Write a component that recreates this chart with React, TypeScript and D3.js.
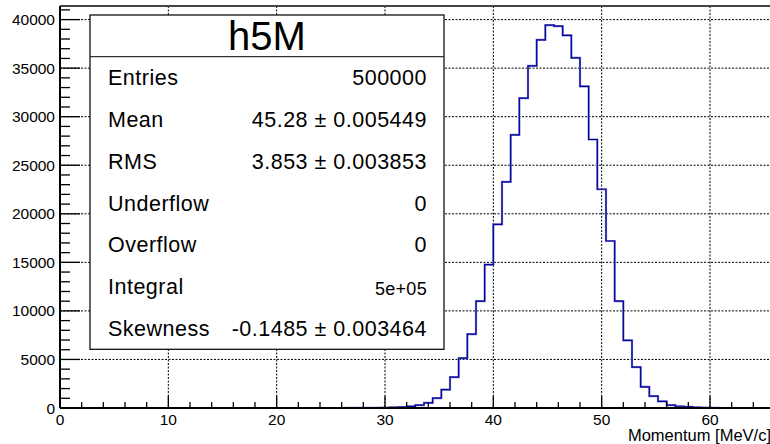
import React from "react";
import * as d3 from "d3";

// Histogram h5M: momentum spectrum, fixed-width bins
const binLow = 26.4;
const binWidth = 0.8;
const binCounts = [
  5, 8, 12, 20, 35, 60, 100, 170, 290, 520, 1010, 1900, 3175, 5134, 7600,
  11010, 14763, 18918, 23278, 28124, 31907, 35237, 37918, 39433, 39330, 38371,
  36062, 33113, 27649, 22526, 17200, 11000, 6959, 4206, 2180, 1230, 685, 300,
  180, 110, 60, 30, 12,
];

const xMajorTicks = [0, 10, 20, 30, 40, 50, 60];
const yMajorTicks = [0, 5000, 10000, 15000, 20000, 25000, 30000, 35000, 40000];

const statsTitle = "h5M";
const statLabels = ["Entries", "Mean", "RMS", "Underflow", "Overflow", "Integral", "Skewness"];
const statValues = [
  "500000",
  "45.28 ± 0.005449",
  "3.853 ± 0.003853",
  "0",
  "0",
  "5e+05",
  "-0.1485 ± 0.003464",
];

const xTitle = "Momentum [MeV/c]";

const W = 770;
const H = 444;
const FONT = "'Liberation Sans', Arial, Helvetica, sans-serif";

export default function App() {
  const left = 60;
  const top = 6;
  const bottom = 408;
  const pxPerUnit = 650 / 60;
  const xMax = 72;
  const x = d3.scaleLinear().domain([0, xMax]).range([left, left + xMax * pxPerUnit]);
  const y = d3.scaleLinear().domain([0, 41400]).range([bottom, top]);

  const n = binCounts.length;
  const pts: [number, number][] = [
    [binLow, 0],
    ...binCounts.map((c, i) => [binLow + i * binWidth, c] as [number, number]),
    [binLow + n * binWidth, 0],
  ];
  const histPath = d3
    .line<[number, number]>()
    .x((d) => x(d[0]))
    .y((d) => y(d[1]))
    .curve(d3.curveStepAfter)(pts) as string;

  const xMinor = d3.range(0, xMax + 0.001, 2).filter((v) => v % 10 !== 0);
  const yMinor = d3.range(0, 41001, 1000).filter((v) => v % 5000 !== 0);

  // stats box geometry
  const bx0 = 90;
  const bx1 = 444;
  const by0 = 15;
  const bySep = 56.7;
  const by1 = 349.3;
  const rowH = (by1 - bySep) / statLabels.length;

  return (
    <svg
      width={W}
      height={H}
      style={{ position: "absolute", left: 0, top: 0, background: "#fff" }}
      fontFamily={FONT}
    >
      <rect x={0} y={0} width={W} height={H} fill="#fff" />

      {/* dotted grid */}
      <g stroke="#000" strokeWidth={1} strokeDasharray="2,1.5">
        {yMajorTicks
          .filter((v) => v > 0)
          .map((v) => (
            <line key={"gy" + v} x1={left} x2={W} y1={y(v)} y2={y(v)} />
          ))}
        {xMajorTicks
          .filter((v) => v > 0)
          .map((v) => (
            <line key={"gx" + v} x1={x(v)} x2={x(v)} y1={top} y2={bottom} />
          ))}
      </g>

      {/* histogram outline */}
      <path d={histPath} fill="none" stroke="#8080d0" strokeWidth={2.2} />
      <path d={histPath} fill="none" stroke="#000099" strokeWidth={1.2} />

      {/* stats box */}
      <rect x={bx0} y={by0} width={bx1 - bx0} height={by1 - by0} fill="#fff" stroke="#111" strokeWidth={1.3} />
      <line x1={bx0} x2={bx1} y1={bySep} y2={bySep} stroke="#333" strokeWidth={1.3} />
      <text x={(bx0 + bx1) / 2} y={50} textAnchor="middle" fontSize={40} fill="#000">
        {statsTitle}
      </text>
      {statLabels.map((lab, i) => {
        const cy = bySep + rowH * (i + 0.5);
        const small = statValues[i] === "5e+05";
        return (
          <g key={lab}>
            <text x={108} y={cy + 7.5} fontSize={21.5} letterSpacing={0.5} fill="#000">
              {lab}
            </text>
            <text
              x={427}
              y={cy + (small ? 8.5 : 7.5)}
              fontSize={small ? 18 : 21.5}
              letterSpacing={small ? 0.3 : 0.5}
              textAnchor="end"
              fill="#000"
            >
              {statValues[i]}
            </text>
          </g>
        );
      })}

      {/* frame */}
      <line x1={left} x2={W} y1={top} y2={top} stroke="#444" strokeWidth={2} />

      {/* y axis */}
      <g stroke="#000" strokeWidth={1.3}>
        {yMajorTicks.map((v) => (
          <line key={"ym" + v} x1={left} x2={left + 20} y1={y(v)} y2={y(v)} />
        ))}
        {yMinor.map((v) => (
          <line key={"yn" + v} x1={left} x2={left + 10} y1={y(v)} y2={y(v)} />
        ))}
      </g>
      <line x1={left} x2={left} y1={top} y2={bottom} stroke="#000" strokeWidth={2} />
      {yMajorTicks.map((v) => (
        <text key={"yl" + v} x={55} y={y(v) + 5.5} fontSize={15.5} textAnchor="end" fill="#000">
          {String(v)}
        </text>
      ))}

      {/* x axis */}
      <g stroke="#000" strokeWidth={1.3}>
        {xMajorTicks.map((v) => (
          <line key={"xm" + v} x1={x(v)} x2={x(v)} y1={bottom} y2={bottom - 12} />
        ))}
        {xMinor.map((v) => (
          <line key={"xn" + v} x1={x(v)} x2={x(v)} y1={bottom} y2={bottom - 6} />
        ))}
      </g>
      <line x1={left} x2={W} y1={bottom} y2={bottom} stroke="#000" strokeWidth={2} />
      {xMajorTicks.map((v) => (
        <text key={"xl" + v} x={x(v)} y={424.5} fontSize={15.5} textAnchor="middle" fill="#000">
          {String(v)}
        </text>
      ))}
      <text x={771} y={440.5} fontSize={16.5} textAnchor="end" fill="#000">
        {xTitle}
      </text>
    </svg>
  );
}
